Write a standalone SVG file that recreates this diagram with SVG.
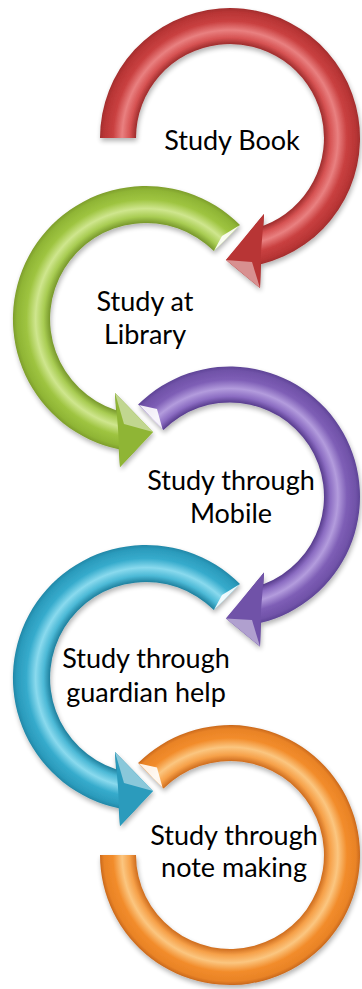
<svg xmlns="http://www.w3.org/2000/svg" width="362" height="989" viewBox="0 0 362 989">
<style>
  .lbl { font-family: Lato, "Open Sans", "Liberation Sans", sans-serif; font-size: 27px; fill: #000; text-anchor: middle; }
  .ring { filter: url(#shadow); }
  .bevel { fill: #ffffff; opacity: 0.9; }
  .facet { fill: #ffffff; opacity: 0.45; }
</style>
<defs>
  <filter id="shadow" x="-20%" y="-20%" width="140%" height="140%">
    <feGaussianBlur in="SourceAlpha" stdDeviation="2.5"/>
    <feOffset dx="1" dy="3" result="b"/>
    <feComponentTransfer><feFuncA type="linear" slope="0.3"/></feComponentTransfer>
    <feMerge><feMergeNode/><feMergeNode in="SourceGraphic"/></feMerge>
  </filter>
  <radialGradient id="gRed" gradientUnits="userSpaceOnUse" cx="230" cy="138" r="130">
    <stop offset="0.72" stop-color="#9A2A2A"/>
    <stop offset="0.77" stop-color="#D65252"/>
    <stop offset="0.83" stop-color="#E98080"/>
    <stop offset="0.90" stop-color="#C94040"/>
    <stop offset="0.97" stop-color="#B83535"/>
    <stop offset="1" stop-color="#A22D2D"/>
  </radialGradient>
  <radialGradient id="gGreen" gradientUnits="userSpaceOnUse" cx="146" cy="319" r="133">
    <stop offset="0.72" stop-color="#76962A"/>
    <stop offset="0.77" stop-color="#A8CC52"/>
    <stop offset="0.83" stop-color="#CFE68E"/>
    <stop offset="0.90" stop-color="#9EC440"/>
    <stop offset="0.97" stop-color="#8FB535"/>
    <stop offset="1" stop-color="#7E9E2C"/>
  </radialGradient>
  <radialGradient id="gPurple" gradientUnits="userSpaceOnUse" cx="230" cy="496.5" r="130">
    <stop offset="0.72" stop-color="#54398A"/>
    <stop offset="0.77" stop-color="#8B6CC2"/>
    <stop offset="0.83" stop-color="#B39CDD"/>
    <stop offset="0.90" stop-color="#7E5EB6"/>
    <stop offset="0.97" stop-color="#7052A8"/>
    <stop offset="1" stop-color="#5E4496"/>
  </radialGradient>
  <radialGradient id="gCyan" gradientUnits="userSpaceOnUse" cx="146" cy="678" r="133">
    <stop offset="0.72" stop-color="#1D7E9C"/>
    <stop offset="0.77" stop-color="#4CB9D6"/>
    <stop offset="0.83" stop-color="#8ADAEE"/>
    <stop offset="0.90" stop-color="#36ABCC"/>
    <stop offset="0.97" stop-color="#2B9BBC"/>
    <stop offset="1" stop-color="#2288A8"/>
  </radialGradient>
  <radialGradient id="gOrange" gradientUnits="userSpaceOnUse" cx="230" cy="855" r="130">
    <stop offset="0.72" stop-color="#CC6A1C"/>
    <stop offset="0.77" stop-color="#F6A048"/>
    <stop offset="0.83" stop-color="#FBC680"/>
    <stop offset="0.90" stop-color="#F28C2B"/>
    <stop offset="0.97" stop-color="#E98326"/>
    <stop offset="1" stop-color="#C9681C"/>
  </radialGradient>
</defs>

<g id="connectors"></g>

<g id="node1">
  <path class="ring" fill="url(#gRed)" d="M 100,138 A 130 130 0 1 1 261,264.3 L 260,288 L 226,260 L 264,214 L 263.4,225.8 A 94 94 0 1 0 136,138 Z"/>
  <path fill="#B83535" d="M 264,214 L 226,260 L 260,288 L 261,252 Z"/>
  <path class="facet" d="M 226,260 L 260,288 L 252,262 Z"/>
  <text class="lbl" x="232" y="150">Study Book</text>
</g>

<g id="node2">
  <path class="ring" fill="url(#gGreen)" d="M 240,225 A 133 133 0 1 0 118.7,449.2 L 120,467 L 153,432 L 115,393 L 116,410.2 A 96 96 0 1 1 213.9,251.1 Z"/>
  <path fill="#8FB535" d="M 115,393 L 153,432 L 120,467 L 118,428 Z"/>
  <path class="facet" opacity="0.3" d="M 115,393 L 153,432 L 124,424 Z"/>
  <path class="bevel" opacity="0.5" d="M 240,225 L 213.9,251.1 L 222,236 Z"/>
  <text class="lbl" x="145" y="311">Study at</text>
  <text class="lbl" x="145" y="344">Library</text>
</g>

<g id="node3">
  <path class="ring" fill="url(#gPurple)" d="M 138.1,404.6 A 130 130 0 1 1 261,622.8 L 260,646.5 L 226,618.5 L 264,572.5 L 263.4,584.3 A 94 94 0 1 0 163.5,430 Z"/>
  <path fill="#7052A8" d="M 264,572.5 L 226,618.5 L 260,646.5 L 261,610 Z"/>
  <path class="facet" d="M 226,618.5 L 260,646.5 L 252,620 Z"/>
  <path class="bevel" d="M 139,405 L 162.5,429 L 157,409 Z"/>
  <text class="lbl" x="231" y="490">Study through</text>
  <text class="lbl" x="231" y="523">Mobile</text>
</g>

<g id="node4">
  <path class="ring" fill="url(#gCyan)" d="M 240,584 A 133 133 0 1 0 118.7,808.2 L 120,826 L 153,791 L 115,752 L 116,769.2 A 96 96 0 1 1 213.9,610.1 Z"/>
  <path fill="#2B9BBC" d="M 115,752 L 153,791 L 120,826 L 118,787 Z"/>
  <path class="facet" opacity="0.3" d="M 115,752 L 153,791 L 124,783 Z"/>
  <path class="bevel" opacity="0.5" d="M 240,584 L 213.9,610.1 L 222,595 Z"/>
  <text class="lbl" x="146" y="668">Study through</text>
  <text class="lbl" x="146" y="702">guardian help</text>
</g>

<g id="node5">
  <path class="ring" fill="url(#gOrange)" d="M 138.1,763.1 A 130 130 0 1 1 100,855 L 136,855 A 94 94 0 1 0 163.5,788.5 Z"/>
  <path class="bevel" d="M 139,763.5 L 162.5,787.5 L 157,767.5 Z"/>
  <text class="lbl" x="234" y="845">Study through</text>
  <text class="lbl" x="234" y="877">note making</text>
</g>
</svg>
